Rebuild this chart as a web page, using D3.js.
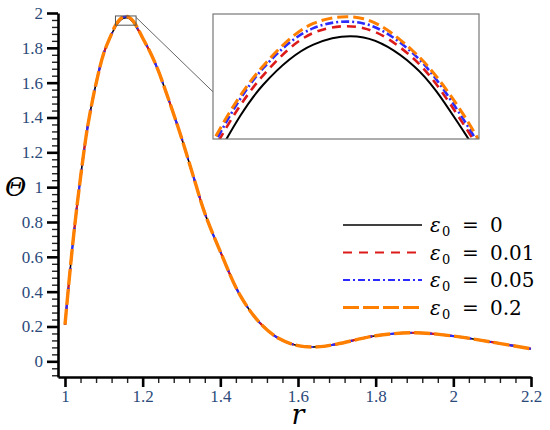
<!DOCTYPE html>
<html>
<head>
<meta charset="utf-8">
<script src="https://cdn.jsdelivr.net/npm/d3@7"></script>
<style>
  body { margin: 0; background: #fff; }
</style>
</head>
<body>
<script>
/* global d3 */

// radial coordinate samples
let R_VALUES = [1.00, 1.01, 1.02, 1.03, 1.04, 1.05, 1.06, 1.08, 1.10,
  1.12, 1.13, 1.14, 1.15, 1.16, 1.17, 1.18, 1.19,
  1.20, 1.22, 1.24, 1.26, 1.28, 1.30, 1.33, 1.36, 1.40, 1.45, 1.50,
  1.55, 1.60, 1.65, 1.70, 1.80, 1.90, 2.00, 2.10, 2.20]

let THETA_EPS_0 = [0.21, 0.45, 0.675, 0.875, 1.055, 1.225, 1.37, 1.595, 1.77,
  1.878, 1.920, 1.953, 1.970, 1.973, 1.961, 1.933, 1.896,
  1.856, 1.772, 1.67, 1.547, 1.418, 1.284, 1.066, 0.851, 0.63, 0.383, 0.225,
  0.132, 0.09, 0.083, 0.099, 0.147, 0.164, 0.145, 0.11, 0.072]

let THETA_EPS_001 = [0.21, 0.45, 0.675, 0.875, 1.055, 1.225, 1.37, 1.595, 1.77,
  1.879, 1.925, 1.957, 1.975, 1.977, 1.964, 1.936, 1.898,
  1.856, 1.772, 1.67, 1.547, 1.418, 1.284, 1.066, 0.851, 0.63, 0.383, 0.225,
  0.132, 0.09, 0.083, 0.099, 0.147, 0.164, 0.145, 0.11, 0.072]

let THETA_EPS_005 = [0.21, 0.45, 0.675, 0.875, 1.055, 1.225, 1.37, 1.595, 1.77,
  1.879, 1.927, 1.960, 1.977, 1.979, 1.966, 1.938, 1.899,
  1.856, 1.772, 1.67, 1.547, 1.418, 1.284, 1.066, 0.851, 0.63, 0.383, 0.225,
  0.132, 0.09, 0.083, 0.099, 0.147, 0.164, 0.145, 0.11, 0.072]

let THETA_EPS_02 = [0.21, 0.45, 0.675, 0.875, 1.055, 1.225, 1.37, 1.595, 1.77,
  1.880, 1.929, 1.961, 1.979, 1.981, 1.967, 1.940, 1.900,
  1.856, 1.772, 1.67, 1.547, 1.418, 1.284, 1.066, 0.851, 0.63, 0.383, 0.225,
  0.132, 0.09, 0.083, 0.099, 0.147, 0.164, 0.145, 0.11, 0.072]

let EPS_LABELS = ['0', '0.01', '0.05', '0.2']

let X_TICKS = [1, 1.2, 1.4, 1.6, 1.8, 2, 2.2]
let Y_TICKS = [0, 0.2, 0.4, 0.6, 0.8, 1, 1.2, 1.4, 1.6, 1.8, 2]

// zoom window shown in the inset
let INSET_R_RANGE = [1.13, 1.183]
let INSET_THETA_RANGE = [1.93, 1.983]

function main () {
  let chart = new ThetaChart()
  chart.render()
}

class ThetaChart {
  constructor () {
    this.svg = d3.select('body').append('svg')
      .attr('width', 550)
      .attr('height', 430)
    this.svg.append('rect').attr('width', 550).attr('height', 430).attr('fill', '#fff')
    this.scales = {
      r: d3.scaleLinear().domain([0.982, 2.2]).range([58, 531]),
      theta: d3.scaleLinear().domain([-0.09, 2]).range([377, 13]),
      insetR: d3.scaleLinear().domain(INSET_R_RANGE).range([213, 479]),
      insetTheta: d3.scaleLinear().domain(INSET_THETA_RANGE).range([139, 14]),
    }
    this.series = [
      {label: EPS_LABELS[0], values: THETA_EPS_0, color: '#000000', dash: null,
        width: 1.6, insetWidth: 2, insetDash: null},
      {label: EPS_LABELS[1], values: THETA_EPS_001, color: '#dd1a1a', dash: '9,7',
        width: 2.2, insetWidth: 2.6, insetDash: '9,6'},
      {label: EPS_LABELS[2], values: THETA_EPS_005, color: '#2a2aff', dash: '7,3,2,3',
        width: 2.2, insetWidth: 2.6, insetDash: '8,3,2,3'},
      {label: EPS_LABELS[3], values: THETA_EPS_02, color: '#ff8000', dash: '16,4',
        width: 3.4, insetWidth: 3, insetDash: '11,5'},
    ]
  }

  render () {
    this.renderAxes()
    this.renderCurves()
    this.renderZoomMarker()
    this.renderInset()
    this.renderLegend()
  }

  renderAxes () {
    let {r, theta} = this.scales
    let minorY = d3.range(-8, 201, 4).map(d => d / 100)
      .filter(d => !Y_TICKS.some(t => Math.abs(t - d) < 1e-6))
    let minorX = d3.range(100, 221, 4).map(d => d / 100)
      .filter(d => !X_TICKS.some(t => Math.abs(t - d) < 1e-6))

    let yMinor = this.svg.append('g')
      .attr('transform', `translate(${r.range()[0]},0)`)
      .call(d3.axisLeft(theta).tickValues(minorY).tickSize(6).tickFormat(''))
    yMinor.select('.domain').remove()
    yMinor.selectAll('line').attr('stroke', '#222').attr('stroke-width', 1.4)

    let xMinor = this.svg.append('g')
      .attr('transform', `translate(0,${theta.range()[0]})`)
      .call(d3.axisBottom(r).tickValues(minorX).tickSize(6).tickFormat(''))
    xMinor.select('.domain').remove()
    xMinor.selectAll('line').attr('stroke', '#222').attr('stroke-width', 1.4)

    let yAxis = this.svg.append('g')
      .attr('transform', `translate(${r.range()[0]},0)`)
      .call(d3.axisLeft(theta).tickValues(Y_TICKS).tickSize(11).tickSizeOuter(0)
        .tickPadding(4).tickFormat(d3.format('')))
    let xAxis = this.svg.append('g')
      .attr('transform', `translate(0,${theta.range()[0]})`)
      .call(d3.axisBottom(r).tickValues(X_TICKS).tickSize(10).tickSizeOuter(0)
        .tickPadding(3).tickFormat(d3.format('')))

    for (let ax of [yAxis, xAxis]) {
      ax.attr('font-size', 17).attr('font-family', 'Liberation Serif, serif')
      ax.select('.domain').attr('stroke', '#000').attr('stroke-width', 2.6)
      ax.selectAll('line').attr('stroke', '#000').attr('stroke-width', 2.6)
      ax.selectAll('text').attr('fill', '#2b4a7a')
    }

    this.svg.append('text')
      .attr('x', 5).attr('y', 196)
      .attr('font-family', 'DejaVu Serif, serif')
      .attr('font-style', 'italic')
      .attr('font-size', 26)
      .text('Θ')
    this.svg.append('text')
      .attr('x', 298).attr('y', 424)
      .attr('text-anchor', 'middle')
      .attr('font-family', 'DejaVu Serif, serif')
      .attr('font-style', 'italic')
      .attr('font-size', 27)
      .text('r')
  }

  lineGen (xScale, yScale) {
    return d3.line()
      .x((d, i) => xScale(R_VALUES[i]))
      .y(d => yScale(d))
      .curve(d3.curveCatmullRom)
  }

  renderCurves () {
    let line = this.lineGen(this.scales.r, this.scales.theta)
    let g = this.svg.append('g').classed('curves', true)
    for (let s of this.series) {
      g.append('path')
        .datum(s.values)
        .attr('d', line)
        .attr('fill', 'none')
        .attr('stroke', s.color)
        .attr('stroke-width', s.width)
        .attr('stroke-dasharray', s.dash)
    }
  }

  renderZoomMarker () {
    let {r, theta, insetR, insetTheta} = this.scales
    this.svg.append('rect')
      .attr('x', r(INSET_R_RANGE[0]))
      .attr('y', theta(INSET_THETA_RANGE[1]))
      .attr('width', r(INSET_R_RANGE[1]) - r(INSET_R_RANGE[0]))
      .attr('height', theta(INSET_THETA_RANGE[0]) - theta(INSET_THETA_RANGE[1]))
      .attr('fill', 'none')
      .attr('stroke', '#555')
      .attr('stroke-width', 1)
    this.svg.append('line')
      .attr('x1', r(INSET_R_RANGE[1])).attr('y1', theta(1.975))
      .attr('x2', insetR.range()[0]).attr('y2', insetTheta(1.95))
      .attr('stroke', '#666')
      .attr('stroke-width', 1)
  }

  renderInset () {
    let {insetR, insetTheta} = this.scales
    let x0 = insetR.range()[0]
    let y0 = insetTheta.range()[1]
    let w = insetR.range()[1] - x0
    let h = insetTheta.range()[0] - y0
    this.svg.append('clipPath').attr('id', 'inset-clip')
      .append('rect').attr('x', x0).attr('y', y0).attr('width', w).attr('height', h)
    this.svg.append('rect')
      .attr('x', x0).attr('y', y0).attr('width', w).attr('height', h)
      .attr('fill', '#fff')
    let line = this.lineGen(insetR, insetTheta)
    let g = this.svg.append('g').attr('clip-path', 'url(#inset-clip)')
    for (let s of this.series) {
      g.append('path')
        .datum(s.values)
        .attr('d', line)
        .attr('fill', 'none')
        .attr('stroke', s.color)
        .attr('stroke-width', s.insetWidth)
        .attr('stroke-dasharray', s.insetDash)
    }
    this.svg.append('rect')
      .attr('x', x0).attr('y', y0).attr('width', w).attr('height', h)
      .attr('fill', 'none')
      .attr('stroke', '#777')
      .attr('stroke-width', 1.2)
  }

  renderLegend () {
    let rowY = d3.scaleLinear().domain([0, 3]).range([225, 307.5])
    let g = this.svg.append('g').classed('legend', true)
      .attr('font-family', 'DejaVu Serif, serif')
    this.series.forEach((s, i) => {
      let y = rowY(i)
      g.append('line')
        .attr('x1', 343).attr('x2', 422).attr('y1', y).attr('y2', y)
        .attr('stroke', s.color)
        .attr('stroke-width', Math.min(s.width, 3.2))
        .attr('stroke-dasharray', s.dash)
      g.append('text')
        .attr('x', 430).attr('y', y + 7)
        .attr('font-size', 20).attr('font-style', 'italic')
        .text('ε')
      g.append('text')
        .attr('x', 442).attr('y', y + 11)
        .attr('font-size', 13)
        .text('0')
      g.append('text')
        .attr('x', 462).attr('y', y + 7)
        .attr('font-size', 20)
        .text('=')
      g.append('text')
        .attr('x', 490).attr('y', y + 7)
        .attr('font-size', 20)
        .text(s.label)
    })
  }
}

main()
</script>
</body>
</html>
